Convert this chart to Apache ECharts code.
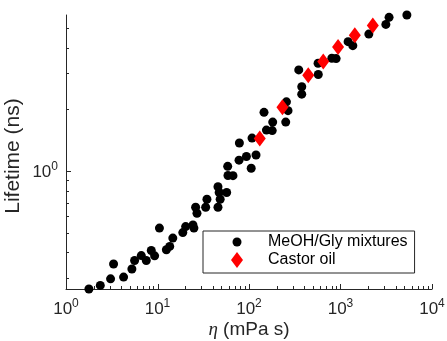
<!DOCTYPE html>
<html>
<head>
<meta charset="utf-8">
<script src="https://cdn.jsdelivr.net/npm/echarts@6/dist/echarts.min.js"></script>
<style>
  html, body { margin: 0; padding: 0; background: #fff; }
  #chart { width: 447px; height: 341px; }
</style>
</head>
<body>
<div id="chart"></div>
<script>
// MeOH/Gly mixtures: viscosity (mPa s) and lifetime (ns)
var mixEta = [1.78, 2.37, 3.07, 3.31, 4.26, 5.25, 5.62, 6.65, 7.54, 8.55, 9.30,
    10.5, 12.5, 13.6, 14.7, 18.9, 20.3, 24.4, 25.0, 26.1, 27.0, 33.6, 34.7,
    45.8, 47.2, 45.8, 48.4, 57.0, 58.9, 58.5, 66.8, 77.8, 93.7, 105.7, 119.3,
    78.5, 107.9, 145.9, 155, 179.4, 181.6, 252, 256.6, 267, 349.7, 377.3, 377,
    571.5, 568.8, 803.6, 895.5, 1211, 1363, 2040, 3131, 3394, 5314];
var mixTau = [0.265, 0.276, 0.297, 0.351, 0.303, 0.332, 0.365, 0.386, 0.365, 0.409, 0.385,
    0.526, 0.412, 0.428, 0.470, 0.500, 0.535, 0.545, 0.526, 0.665, 0.622, 0.665, 0.728,
    0.838, 0.785, 0.665, 0.728, 0.785, 0.951, 1.054, 0.949, 1.13, 1.177, 1.031, 1.197,
    1.37, 1.449, 1.936, 1.585, 1.576, 1.734, 1.734, 2.178, 1.973, 3.12, 2.583, 2.375,
    2.963, 3.365, 3.558, 3.546, 4.29, 4.10, 4.67, 5.21, 5.64, 5.79];

// Castor oil
var castorEta = [131, 232, 444, 648, 941, 1433, 2256];
var castorTau = [1.44, 2.05, 2.94, 3.43, 4.04, 4.61, 5.15];

var seriesNames = ['MeOH/Gly mixtures', 'Castor oil'];

// axis ranges
var xMin = 1, xMax = 10000;
var yMin = 0.265, yMax = 5.79;
var xDecades = [1, 10, 100, 1000];
var yMinorTicks = [0.3, 0.4, 0.5, 0.6, 0.7, 0.8, 0.9, 2, 3, 4, 5];

var axisColor = '#262626';
var font = 'Liberation Sans, Arial, Helvetica, sans-serif';

function pairs(xs, ys) {
    var out = [];
    for (var i = 0; i < xs.length; i++) out.push([xs[i], ys[i]]);
    return out;
}

// tick marks (drawn inward, like the original)
var xTickData = [];
xDecades.forEach(function (d) {
    xTickData.push([d, yMin, 5]);
    for (var m = 2; m <= 9; m++) xTickData.push([m * d, yMin, 3]);
});
xTickData.push([xMax, yMin, 5]);
var yTickData = [[xMin, 1, 5]];
yMinorTicks.forEach(function (v) { yTickData.push([xMin, v, 3]); });

function powLabel(v) {
    var l = Math.log10(v);
    var e = Math.round(l);
    if (Math.abs(l - e) > 1e-6) return '';
    return '{b|10}{s|' + e + '}';
}

var labelRich = {
    b: { fontSize: 17, fontFamily: font, color: axisColor, lineHeight: 20, verticalAlign: 'bottom' },
    s: { fontSize: 12, fontFamily: font, color: axisColor, lineHeight: 12, verticalAlign: 'top' }
};

var chart = echarts.init(document.getElementById('chart'));
chart.setOption({
    animation: false,
    backgroundColor: '#fff',
    grid: { left: 66, right: 15, top: 15, bottom: 52, containLabel: false, outerBoundsMode: 'none' },
    xAxis: {
        type: 'log', logBase: 10, min: xMin, max: xMax,
        name: '{i|\u03b7} (mPa s)', nameLocation: 'middle', nameGap: 31, nameMoveOverlap: false,
        nameTextStyle: {
            fontSize: 19, fontFamily: font, color: axisColor,
            rich: { i: { fontSize: 19, fontFamily: 'Liberation Serif, DejaVu Serif, serif', fontStyle: 'italic', color: axisColor } }
        },
        axisLine: { lineStyle: { color: axisColor, width: 1 } },
        axisTick: { show: false },
        splitLine: { show: false },
        minorTick: { show: false },
        axisLabel: { margin: 9, formatter: powLabel, rich: labelRich, showMinLabel: true, showMaxLabel: true }
    },
    yAxis: {
        type: 'log', logBase: 10, min: yMin, max: yMax,
        name: 'Lifetime (ns)', nameLocation: 'middle', nameGap: 42, nameMoveOverlap: false,
        nameTextStyle: { fontSize: 21, fontFamily: font, color: axisColor, padding: [0, 8, 0, 0] },
        axisLine: { lineStyle: { color: axisColor, width: 1 } },
        axisTick: { show: false },
        splitLine: { show: false },
        minorTick: { show: false },
        axisLabel: { margin: 8, formatter: powLabel, rich: labelRich }
    },
    legend: {
        orient: 'vertical', left: 203, top: 231,
        padding: [3, 7, 5, 28], itemWidth: 52, itemHeight: 16, itemGap: 2,
        borderColor: axisColor, borderWidth: 1, borderRadius: 0, backgroundColor: '#fff',
        selectedMode: false,
        textStyle: { fontSize: 16, fontFamily: font, color: '#000', lineHeight: 16 },
        data: [
            { name: seriesNames[0], icon: 'path://M0,0M12,16M1.5,8A4.5,4.5,0,1,1,10.5,8A4.5,4.5,0,1,1,1.5,8Z' },
            { name: seriesNames[1], icon: 'path://M6,0L12,8L6,16L0,8Z' }
        ]
    },
    series: [
        {
            type: 'custom', silent: true, z: 1,
            renderItem: function (params, api) {
                var p = api.coord([api.value(0), api.value(1)]);
                var x = Math.round(p[0]) + 0.5;
                return { type: 'line', shape: { x1: x, y1: p[1], x2: x, y2: p[1] - api.value(2) },
                    style: { stroke: axisColor, lineWidth: 1 } };
            },
            data: xTickData
        },
        {
            type: 'custom', silent: true, z: 1,
            renderItem: function (params, api) {
                var p = api.coord([api.value(0), api.value(1)]);
                var y = Math.round(p[1]) + 0.5;
                return { type: 'line', shape: { x1: p[0], y1: y, x2: p[0] + api.value(2), y2: y },
                    style: { stroke: axisColor, lineWidth: 1 } };
            },
            data: yTickData
        },
        {
            name: seriesNames[0], type: 'scatter', z: 3,
            symbol: 'circle', symbolSize: 9,
            itemStyle: { color: '#000', opacity: 1 },
            data: pairs(mixEta, mixTau)
        },
        {
            name: seriesNames[1], type: 'scatter', z: 4,
            symbol: 'diamond', symbolSize: [12, 16],
            itemStyle: { color: '#ff0000', opacity: 1 },
            data: pairs(castorEta, castorTau)
        }
    ]
});
</script>
</body>
</html>
